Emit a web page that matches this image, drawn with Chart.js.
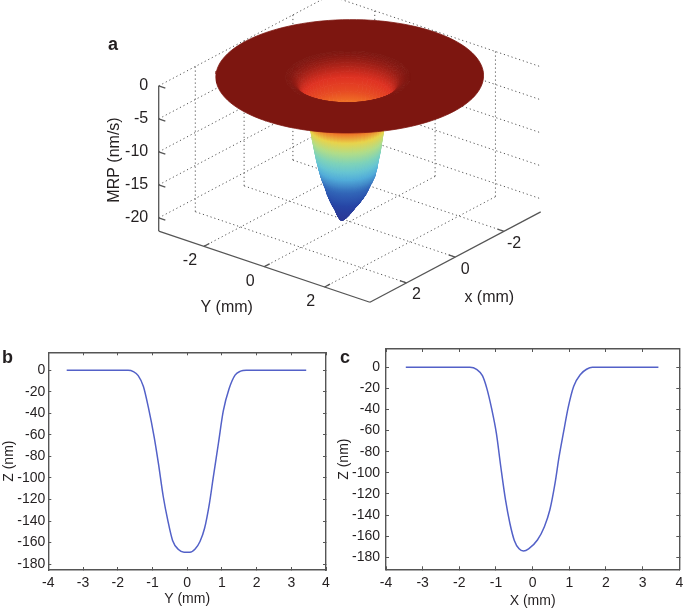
<!DOCTYPE html>
<html>
<head>
<meta charset="utf-8">
<script src="https://cdn.jsdelivr.net/npm/chart.js@4"></script>
<style>
  body { margin: 0; background: #fff; }
  canvas { position: absolute; filter: blur(0.45px); }
</style>
</head>
<body>
<canvas id="surfaceChart" width="685" height="340" style="left:0;top:0"></canvas>
<canvas id="yProfileChart" width="335" height="268" style="left:0;top:340px"></canvas>
<canvas id="xProfileChart" width="350" height="268" style="left:335px;top:340px"></canvas>
<script>
// Panel a: well profile (radius in mm, MRP in nm/s)
const wellRadius = [0, 0.05, 0.1, 0.15, 0.2, 0.25, 0.3, 0.35, 0.4, 0.45, 0.5, 0.55, 0.6, 0.65, 0.7, 0.75, 0.8,
    0.85, 0.9, 0.95, 1, 1.05, 1.1, 1.15, 1.2, 1.25, 1.3, 1.35, 1.4, 1.45, 1.5, 1.55, 1.6];
const wellMrp = [-21.1, -21.03, -20.8, -20.45, -20.05, -19.6, -19.2, -18.85, -18.4, -17.95, -17.45, -16.8, -16.1,
    -15.5, -14.8, -13.7, -12.4, -11, -9.3, -7.6, -6, -4.7, -3.65, -2.8, -2.1, -1.5, -1, -0.62, -0.44, -0.25,
    -0.12, -0.06, 0];
// the well leans towards +x near the bottom
const wellShiftX = [0.33, 0.32, 0.29, 0.27, 0.24, 0.22, 0.21, 0.19, 0.17, 0.15, 0.13, 0.11, 0.1, 0.09, 0.08, 0.08,
    0.09, 0.09, 0.1, 0.1, 0.1, 0.1, 0.1, 0.1, 0.1, 0.09, 0.09, 0.09, 0.09, 0.08, 0.08, 0.08, 0.08];
const discRadius = 3.45;
const zTicks3d = [0, -5, -10, -15, -20];
const xyTicks3d = [-2, 0, 2];

// Panel b
const yProfileMm = [-3.47, -1.7, -1.55, -1.41, -1.26, -1.12, -0.95, -0.83, -0.69, -0.56, -0.42, -0.25, -0.09,
    0.08, 0.23, 0.37, 0.5, 0.64, 0.75, 0.9, 1.04, 1.21, 1.38, 1.54, 1.7, 3.43];
const yProfileNm = [0, 0, -1.2, -5, -15, -34, -62, -86, -117, -139, -158, -166.5, -169,
    -169, -166, -159, -147, -124, -100, -68, -38, -17, -4.5, -0.8, 0, 0];

// Panel c
const xProfileMm = [-3.46, -1.71, -1.53, -1.37, -1.25, -1.12, -0.99, -0.87, -0.74, -0.62, -0.5, -0.37, -0.25,
    -0.11, 0.13, 0.32, 0.47, 0.61, 0.72, 0.84, 0.97, 1.12, 1.31, 1.47, 1.63, 3.43];
const xProfileNm = [0, 0, -1.9, -8, -20, -39, -62.5, -94, -125.7, -148, -164, -172, -174,
    -172, -163.6, -151, -135, -110, -85, -62, -38, -18, -6.6, -1.9, 0, 0];

const mmTicks = [-4, -3, -2, -1, 0, 1, 2, 3, 4];
const nmTicks = [0, -20, -40, -60, -80, -100, -120, -140, -160, -180];

// jet colormap as it looks in the print
const jetAt = [0, 0.125, 0.25, 0.375, 0.5, 0.625, 0.67, 0.73, 0.875, 1];
const jetStops = [[43, 55, 148], [38, 68, 165], [50, 105, 185], [90, 190, 225], [135, 215, 175],
    [225, 228, 90], [248, 175, 42], [236, 88, 36], [222, 48, 34], [125, 22, 16]];

const FONT = '"Liberation Sans", Arial, sans-serif';
const TEXT_COLOR = '#231f20';
const AXIS_COLOR = '#555';
const CURVE_COLOR = '#5361c8';

const SECTORS = 60;
const Z_FLOOR = -22;
const EDGE = 3.5;

const surfaceCtx = document.getElementById('surfaceChart').getContext('2d');

// orthographic view fitted on the axes of panel a
function project(x, y, z) {
    return {
        x: 349.7 - 24.4 * x + 30.17 * y,
        y: 221.5 + 12.9 * x + 10.17 * y - 6.6 * (z - Z_FLOOR)
    };
}

function viewDepth(x, y, z) {
    return 0.906 * (0.785 * x + 0.619 * y) + 0.0794 * z;
}

function jetColor(mrp) {
    const t = Math.min(1, Math.max(0, (mrp - wellMrp[0]) / -wellMrp[0]));
    let i = 0;
    while (i < jetAt.length - 2 && t > jetAt[i + 1]) i++;
    const f = (t - jetAt[i]) / (jetAt[i + 1] - jetAt[i]);
    const c = jetStops[i].map((v, k) => Math.round(v + (jetStops[i + 1][k] - v) * f));
    return `rgb(${c[0]},${c[1]},${c[2]})`;
}

function wellPoint(ring, sector) {
    const a = sector / SECTORS * Math.PI * 2;
    return {
        x: wellShiftX[ring] + wellRadius[ring] * Math.cos(a),
        y: wellRadius[ring] * Math.sin(a),
        z: wellMrp[ring]
    };
}

function polygonDataset(corners, paint) {
    const pts = corners.map(p => project(p.x, p.y, p.z));
    pts.push(pts[0]);
    return {
        data: pts,
        showLine: true,
        fill: 'shape',
        backgroundColor: paint,
        borderColor: paint,
        borderWidth: 0.8,
        pointRadius: 0
    };
}

function midpoint(a, b) {
    return { x: (a.x + b.x) / 2, y: (a.y + b.y) / 2, z: (a.z + b.z) / 2 };
}

function lineDataset(from, to, dotted) {
    return {
        data: [project(...from), project(...to)],
        showLine: true,
        borderColor: AXIS_COLOR,
        borderWidth: dotted ? 1 : 1.3,
        borderDash: dotted ? [1.2, 2.8] : [],
        pointRadius: 0
    };
}

function buildDisc() {
    const last = wellRadius.length - 1;
    const corners = [];
    for (let s = 0; s <= SECTORS * 2; s++) {
        const a = s / (SECTORS * 2) * Math.PI * 2;
        corners.push({ x: discRadius * Math.cos(a), y: discRadius * Math.sin(a), z: 0 });
    }
    for (let s = SECTORS; s >= 0; s--) corners.push(wellPoint(last, s));
    return polygonDataset(corners, jetColor(0));
}

function buildWell() {
    const well = [];
    for (let s = 0; s < SECTORS; s++) {
        for (let r = 0; r < wellRadius.length - 1; r++) {
            const corners = [wellPoint(r, s), wellPoint(r, s + 1), wellPoint(r + 1, s + 1), wellPoint(r + 1, s)];
            const inner = midpoint(corners[0], corners[1]);
            const outer = midpoint(corners[2], corners[3]);
            const mid = midpoint(inner, outer);
            const p0 = project(inner.x, inner.y, inner.z);
            const p1 = project(outer.x, outer.y, outer.z);
            const paint = surfaceCtx.createLinearGradient(p0.x, p0.y, p1.x, p1.y);
            paint.addColorStop(0, jetColor(wellMrp[r]));
            paint.addColorStop(1, jetColor(wellMrp[r + 1]));
            well.push({ depth: viewDepth(mid.x, mid.y, mid.z), set: polygonDataset(corners, paint) });
        }
    }
    well.sort((a, b) => b.depth - a.depth);
    return well.map(w => w.set);
}

function buildFrame() {
    const sets = [];
    zTicks3d.forEach(z => {
        sets.push(lineDataset([EDGE, -EDGE, z], [-EDGE, -EDGE, z], true));
        sets.push(lineDataset([-EDGE, -EDGE, z], [-EDGE, EDGE, z], true));
        sets.push(lineDataset([EDGE, -EDGE, z], [EDGE, -EDGE + 0.22, z], false));
    });
    xyTicks3d.forEach(v => {
        sets.push(lineDataset([v, -EDGE, Z_FLOOR], [v, -EDGE, 0], true));
        sets.push(lineDataset([-EDGE, v, Z_FLOOR], [-EDGE, v, 0], true));
        sets.push(lineDataset([v, -EDGE, Z_FLOOR], [v, EDGE, Z_FLOOR], true));
        sets.push(lineDataset([-EDGE, v, Z_FLOOR], [EDGE, v, Z_FLOOR], true));
        sets.push(lineDataset([EDGE, v, Z_FLOOR], [EDGE - 0.22, v, Z_FLOOR], false));
        sets.push(lineDataset([v, EDGE, Z_FLOOR], [v, EDGE - 0.22, Z_FLOOR], false));
    });
    sets.push(lineDataset([EDGE, -EDGE, 0], [EDGE, -EDGE, Z_FLOOR], false));
    sets.push(lineDataset([EDGE, -EDGE, Z_FLOOR], [EDGE, EDGE, Z_FLOOR], false));
    sets.push(lineDataset([EDGE, EDGE, Z_FLOOR], [-EDGE, EDGE, Z_FLOOR], false));
    return sets;
}

// real text drawn on top of a chart
function textPlugin(items) {
    return {
        id: 'panelText',
        afterDraw(chart) {
            const ctx = chart.ctx;
            items.forEach(t => {
                ctx.save();
                ctx.translate(t.x, t.y);
                if (t.rotate) ctx.rotate(t.rotate);
                ctx.font = t.font;
                ctx.fillStyle = TEXT_COLOR;
                ctx.textAlign = t.align || 'center';
                ctx.textBaseline = t.baseline || 'middle';
                ctx.fillText(t.text, 0, 0);
                ctx.restore();
            });
        }
    };
}

const font3d = `16px ${FONT}`;
const labelFont = `bold 18px ${FONT}`;
const surfaceText = [
    { text: 'a', x: 108, y: 50, font: labelFont, align: 'left', baseline: 'alphabetic' },
    { text: 'MRP (nm/s)', x: 114.5, y: 160, font: font3d, rotate: -Math.PI / 2 },
    { text: 'Y (mm)', x: 226.7, y: 307.7, font: font3d },
    { text: 'x (mm)', x: 489.3, y: 297.7, font: font3d }
];
zTicks3d.forEach(z => {
    const p = project(EDGE, -EDGE, z);
    surfaceText.push({ text: String(z), x: p.x - 10.5, y: p.y, font: font3d, align: 'right' });
});
xyTicks3d.forEach(v => {
    const py = project(EDGE, v, Z_FLOOR);
    surfaceText.push({ text: String(v), x: py.x - 14, y: py.y + 14.7, font: font3d });
    const px = project(v, EDGE, Z_FLOOR);
    surfaceText.push({ text: String(v), x: px.x + 10, y: px.y + 12, font: font3d });
});

// the first dataset is painted last
new Chart(document.getElementById('surfaceChart'), {
    type: 'scatter',
    data: { datasets: [buildDisc()].concat(buildWell(), buildFrame()) },
    options: {
        responsive: false,
        animation: false,
        events: [],
        layout: { padding: 0 },
        plugins: { legend: { display: false }, tooltip: { enabled: false } },
        scales: {
            x: { display: false, min: 0, max: 685 },
            y: { display: false, min: 0, max: 340, reverse: true }
        }
    },
    plugins: [textPlugin(surfaceText)]
});

function fixedSize(prop, size) {
    return scale => {
        scale[prop] = size;
        scale.paddingLeft = scale.paddingRight = scale.paddingTop = scale.paddingBottom = 0;
    };
}

function profileChart(id, xs, zs, cfg) {
    const frame = (ticks, extra) => Object.assign({
        type: 'linear',
        afterBuildTicks: axis => { axis.ticks = ticks.map(v => ({ value: v })); },
        border: { color: AXIS_COLOR, width: 1.4 },
        grid: { drawOnChartArea: false, color: AXIS_COLOR, tickLength: -3, lineWidth: 1 }
    }, extra);
    const tickFont = { family: FONT, size: 14 };
    const titleFont = { family: FONT, size: 14 };
    new Chart(document.getElementById(id), {
        type: 'line',
        data: {
            datasets: [{
                data: xs.map((x, i) => ({ x, y: zs[i] })),
                borderColor: CURVE_COLOR,
                borderWidth: 1.5,
                pointRadius: 0,
                cubicInterpolationMode: 'monotone',
                fill: false
            }]
        },
        options: {
            responsive: false,
            animation: false,
            events: [],
            layout: { padding: { left: 0, top: cfg.top, right: cfg.right, bottom: 0 } },
            plugins: { legend: { display: false }, tooltip: { enabled: false } },
            scales: {
                x: frame(mmTicks, {
                    position: 'bottom', min: -4, max: 4,
                    afterFit: fixedSize('height', cfg.bottom),
                    ticks: { font: tickFont, color: TEXT_COLOR, padding: 8, maxRotation: 0, autoSkip: false },
                    title: { display: true, text: cfg.xTitle, font: titleFont, color: TEXT_COLOR, padding: { top: 0, bottom: cfg.titlePad } }
                }),
                y: frame(nmTicks, {
                    position: 'left', min: cfg.yMin, max: cfg.yMax,
                    afterFit: fixedSize('width', cfg.left),
                    ticks: { font: tickFont, color: TEXT_COLOR, padding: cfg.tickGap, autoSkip: false },
                    title: { display: true, text: 'Z (nm)', font: titleFont, color: TEXT_COLOR, padding: { top: 1, bottom: 0 } }
                }),
                x2: frame(mmTicks, {
                    axis: 'x', position: 'top', min: -4, max: 4,
                    afterFit: fixedSize('height', 0),
                    ticks: { display: false }
                }),
                y2: frame(nmTicks, {
                    axis: 'y', position: 'right', min: cfg.yMin, max: cfg.yMax,
                    afterFit: fixedSize('width', 0),
                    ticks: { display: false }
                })
            }
        },
        plugins: [textPlugin([{ text: cfg.label, x: cfg.labelX, y: 22.5, font: labelFont, align: 'left', baseline: 'alphabetic' }])]
    });
}

profileChart('yProfileChart', yProfileMm, yProfileNm, {
    label: 'b', labelX: 2, xTitle: 'Y (mm)',
    left: 48.3, right: 9, top: 12.3, bottom: 38, titlePad: 0,
    yMin: -185.5, yMax: 16.7, tickGap: 6
});
profileChart('xProfileChart', xProfileMm, xProfileNm, {
    label: 'c', labelX: 5, xTitle: 'X (mm)',
    left: 51, right: 5.7, top: 9, bottom: 38.7, titlePad: -2,
    yMin: -191.4, yMax: 17.3, tickGap: 9
});
</script>
</body>
</html>
